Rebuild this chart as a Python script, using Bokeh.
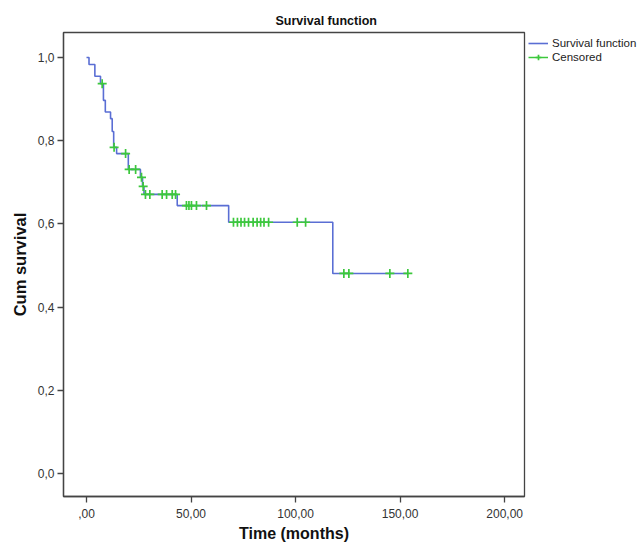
from bokeh.plotting import figure
from bokeh.models import Range1d, FixedTicker, Legend, LegendItem
from bokeh.embed import file_html
from bokeh.resources import INLINE

# Kaplan-Meier step curve (time in months, cumulative survival)
step_time = [0, 1.2, 4.0, 6.7, 8.1, 9.0, 11.5, 12.3, 13.0, 14.4, 20.0, 25.8, 26.8, 27.5,
             43.4, 68.0, 117.8, 153.7]
step_surv = [1.0, 0.983, 0.955, 0.937, 0.897, 0.869, 0.853, 0.822, 0.784, 0.769, 0.731,
             0.712, 0.690, 0.671, 0.644, 0.604, 0.481, 0.481]

# Censored observations
cens_time = [7.5, 13.2, 18.7, 20.4, 23.5, 26.3, 27.1,
             28.2, 30.3, 36.2, 38.3, 41.0, 42.6,
             47.8, 49.0, 50.2, 52.6, 57.4,
             70.3, 72.2, 73.9, 75.6, 77.5, 79.7, 81.6, 83.3, 84.9, 87.1, 100.8, 104.8,
             123.1, 125.5, 145.1, 153.7]
cens_surv = [0.937, 0.784, 0.769, 0.731, 0.731, 0.712, 0.690,
             0.671, 0.671, 0.671, 0.671, 0.671, 0.671,
             0.644, 0.644, 0.644, 0.644, 0.644,
             0.604, 0.604, 0.604, 0.604, 0.604, 0.604, 0.604, 0.604, 0.604, 0.604, 0.604, 0.604,
             0.481, 0.481, 0.481, 0.481]

x_ticks = [0, 50, 100, 150, 200]
x_tick_labels = [",00", "50,00", "100,00", "150,00", "200,00"]
y_ticks = [0.0, 0.2, 0.4, 0.6, 0.8, 1.0]
y_tick_labels = ["0,0", "0,2", "0,4", "0,6", "0,8", "1,0"]

FONT = "Liberation Sans"
AXIS_COLOR = "#444444"
LINE_COLOR = "#5a6ed4"
CENS_COLOR = "#3cc83c"

p = figure(frame_width=461, frame_height=464,
           min_border_left=63, min_border_right=117, min_border_top=32, min_border_bottom=47,
           x_range=Range1d(-11, 209.5), y_range=Range1d(-0.055, 1.06),
           output_backend="svg", toolbar_location=None, tools="")

p.title.text = "Survival function"
p.title.text_font = FONT
p.title.text_font_size = "12.5px"
p.title.text_font_style = "bold"
p.title.text_color = "#111111"
p.title.align = "left"
p.title.offset = 212
p.title.standoff = 10

p.grid.visible = False
p.background_fill_color = "white"
p.border_fill_color = "white"
p.outline_line_color = AXIS_COLOR
p.outline_line_width = 1.3

for ax in (p.xaxis[0], p.yaxis[0]):
    ax.axis_line_color = AXIS_COLOR
    ax.axis_line_width = 1.3
    ax.major_tick_line_color = AXIS_COLOR
    ax.major_tick_line_width = 1.3
    ax.major_tick_out = 6
    ax.major_tick_in = 0
    ax.minor_tick_line_color = None
    ax.major_label_text_font = FONT
    ax.major_label_text_font_size = "12px"
    ax.major_label_text_color = "#333333"
    ax.axis_label_text_font = FONT
    ax.axis_label_text_font_style = "bold"
    ax.axis_label_text_color = "#111111"

p.xaxis.ticker = FixedTicker(ticks=x_ticks)
p.xaxis.major_label_overrides = dict(zip(x_ticks, x_tick_labels))
p.xaxis.axis_label = "Time (months)"
p.xaxis.axis_label_text_font_size = "16px"
p.xaxis.major_label_standoff = 6
p.xaxis.axis_label_standoff = 4

p.yaxis.ticker = FixedTicker(ticks=y_ticks)
p.yaxis.major_label_overrides = dict(zip(y_ticks, y_tick_labels))
p.yaxis.axis_label = "Cum survival"
p.yaxis.axis_label_text_font_size = "16.5px"
p.yaxis.major_label_standoff = 3
p.yaxis.axis_label_standoff = 6

step_r = p.step(step_time, step_surv, mode="after", line_color=LINE_COLOR, line_width=1.6)
# legend-only line for the "Censored" key (a single NaN point draws nothing in the plot)
cens_line = p.line([float("nan")], [float("nan")], line_color=CENS_COLOR, line_width=1.5)
cens_r = p.scatter(cens_time, cens_surv, marker="cross", size=9,
                   line_color=CENS_COLOR, line_width=1.7)

legend = Legend(items=[LegendItem(label="Survival function", renderers=[step_r]),
                       LegendItem(label="Censored", renderers=[cens_line, cens_r])],
                location="top_left")
legend.padding = 0
legend.spacing = 0
legend.margin = 4
legend.label_height = 11
legend.glyph_height = 14
legend.glyph_width = 20
legend.label_standoff = 4
legend.label_text_font = FONT
legend.label_text_font_size = "11.5px"
legend.label_text_color = "#222222"
legend.background_fill_alpha = 0
legend.border_line_color = None
p.add_layout(legend, "right")

open("out.html", "w").write(file_html(p, INLINE))
